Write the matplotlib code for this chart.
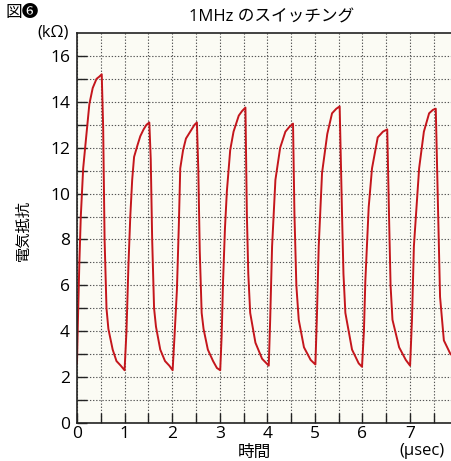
import numpy as np
import matplotlib.pyplot as plt

plt.rcParams['font.family'] = ['Open Sans', 'Noto Sans CJK JP', 'DejaVu Sans']

# 時間 (μsec)
t = [
    0.00, 0.02, 0.05, 0.08, 0.13, 0.19, 0.26, 0.33, 0.41, 0.47, 0.52, 0.55, 0.58, 0.62, 0.66, 0.75, 0.83, 0.92, 1.00,
    1.04, 1.08, 1.12, 1.16, 1.20, 1.27, 1.33, 1.40, 1.46, 1.52, 1.55, 1.58, 1.62, 1.66, 1.75, 1.85, 1.94, 2.01,
    2.05, 2.10, 2.14, 2.17, 2.23, 2.29, 2.35, 2.41, 2.47, 2.52, 2.55, 2.58, 2.62, 2.66, 2.75, 2.86, 2.94, 3.01,
    3.04, 3.07, 3.11, 3.15, 3.22, 3.29, 3.40, 3.47, 3.54, 3.57, 3.60, 3.64, 3.75, 3.89, 4.03,
    4.06, 4.10, 4.17, 4.27, 4.38, 4.46, 4.54, 4.57, 4.61, 4.66, 4.77, 4.91, 5.01,
    5.04, 5.08, 5.15, 5.26, 5.36, 5.45, 5.52, 5.57, 5.60, 5.64, 5.78, 5.92, 5.99,
    6.03, 6.06, 6.13, 6.20, 6.32, 6.43, 6.52, 6.56, 6.59, 6.63, 6.77, 6.91, 7.00,
    7.04, 7.08, 7.19, 7.29, 7.40, 7.48, 7.54, 7.59, 7.63, 7.71, 7.85,
]
# 電気抵抗 (kΩ)
r = [
    2.6, 4.5, 7.0, 9.0, 11.1, 12.4, 13.9, 14.6, 15.0, 15.1, 15.2, 12.9, 8.0, 5.0, 4.1, 3.2, 2.7, 2.5, 2.3,
    4.0, 6.8, 9.0, 10.6, 11.6, 12.1, 12.5, 12.8, 13.0, 13.1, 11.5, 8.0, 5.0, 4.2, 3.2, 2.7, 2.5, 2.3,
    3.8, 5.8, 8.6, 11.1, 11.9, 12.4, 12.6, 12.8, 13.0, 13.1, 11.0, 7.5, 4.8, 4.1, 3.2, 2.7, 2.4, 2.3,
    3.8, 6.2, 8.5, 10.1, 11.9, 12.7, 13.4, 13.6, 13.75, 9.1, 6.5, 4.8, 3.5, 2.8, 2.5,
    4.5, 7.7, 10.6, 12.0, 12.7, 12.9, 13.05, 9.1, 6.0, 4.5, 3.3, 2.75, 2.55,
    4.5, 7.7, 10.9, 12.6, 13.5, 13.7, 13.8, 9.1, 6.5, 4.8, 3.2, 2.6, 2.45,
    4.0, 6.2, 9.4, 11.1, 12.45, 12.7, 12.8, 8.8, 6.0, 4.5, 3.3, 2.75, 2.5,
    4.5, 7.7, 11.1, 12.7, 13.5, 13.65, 13.7, 9.1, 5.5, 3.6, 3.0,
]

fig = plt.figure(figsize=(4.51, 4.61), dpi=100)
ax = fig.add_axes([0.1707, 0.0824, 0.8293, 0.8460])
ax.set_facecolor('#fbfbf4')

ax.plot(t, r, color='#c4161c', lw=1.4, solid_joinstyle='round')

ax.set_xlim(0, 7.86)
ax.set_ylim(0, 17)
ax.set_xticks(np.arange(0, 8, 0.5))
ax.set_xticklabels([str(int(v)) if v == int(v) else '' for v in np.arange(0, 8, 0.5)])
ax.set_yticks(range(0, 17))
ax.set_yticklabels([str(v) if v % 2 == 0 else '' for v in range(0, 17)])
ax.tick_params(direction='in', length=7, width=1.0, color='#222222',
               labelsize=12.5, pad=5)
ax.tick_params(axis='x', pad=2)
ax.grid(True, color='#555555', linestyle=(0, (1.2, 1.6)), linewidth=0.8)
ax.spines['right'].set_visible(False)
for s in ['left', 'bottom', 'top']:
    ax.spines[s].set_linewidth(1.2)
    ax.spines[s].set_color('#222222')

fig.text(0.012, 0.99, '図❻', fontsize=12, va='top', ha='left')
fig.text(0.602, 0.962, '1MHz のスイッチング', fontsize=12, ha='center', va='center')
fig.text(0.152, 0.930, '(kΩ)', fontsize=12, ha='right', va='center')
fig.text(0.053, 0.50, '電気抵抗', fontsize=11, rotation=90, ha='center', va='center')
fig.text(0.565, 0.018, '時間', fontsize=12, ha='center', va='center')
fig.text(0.935, 0.004, '(μsec)', fontsize=12, ha='center', va='bottom')

fig.savefig('out.png', dpi=100)
